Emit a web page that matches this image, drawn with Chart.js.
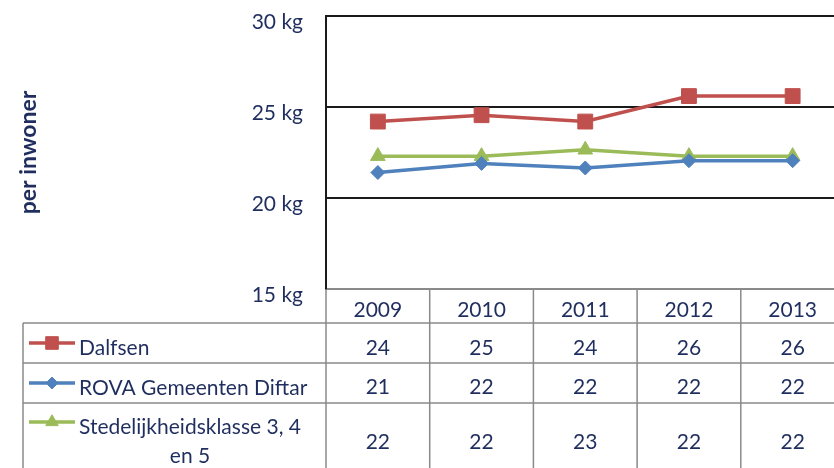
<!DOCTYPE html>
<html>
<head>
<meta charset="utf-8">
<script src="https://cdn.jsdelivr.net/npm/chart.js@4.4.1/dist/chart.umd.min.js"></script>
<style>
  html, body { margin: 0; padding: 0; background: #fff; overflow: hidden; }
  #wrap { width: 834px; height: 468px; overflow: hidden; }
</style>
</head>
<body>
<div id="wrap"><canvas id="chart" width="856" height="468"></canvas></div>
<script>
const years = ["2009", "2010", "2011", "2012", "2013"];
const dalfsen = [24.2, 24.55, 24.2, 25.6, 25.6];
const rova = [21.4, 21.9, 21.65, 22.05, 22.05];
const stedelijk = [22.3, 22.3, 22.65, 22.3, 22.3];
const yTicks = [15, 20, 25, 30];

const navy = '#1F2E5E';
const red = '#C0504D', blue = '#4F81BD', green = '#9BBB59';
const fontFamily = 'Lato, "Open Sans", sans-serif';

// data table under the plot, drawn from the x scale
const dataTable = {
  id: 'dataTable',
  afterDraw(chart) {
    const ctx = chart.ctx;
    const xs = chart.scales.x;
    const area = chart.chartArea;
    const step = xs.getPixelForValue(1) - xs.getPixelForValue(0);
    const left = 23;
    const rowLines = [323, 363, 403];
    const valueY = [348, 387, 442];
    const markerY = [343, 383, 422];
    const bottom = chart.height;

    ctx.save();
    ctx.strokeStyle = '#8a8a8a';
    ctx.lineWidth = 1.5;
    ctx.beginPath();
    rowLines.forEach(y => { ctx.moveTo(left, y); ctx.lineTo(chart.width, y); });
    ctx.moveTo(left, rowLines[0]); ctx.lineTo(left, bottom);
    for (let i = 0; i <= years.length; i++) {
      const x = xs.getPixelForValue(0) - step / 2 + i * step;
      ctx.moveTo(x, area.bottom); ctx.lineTo(x, bottom);
    }
    ctx.stroke();

    ctx.fillStyle = navy;
    ctx.font = '21px ' + fontFamily;
    ctx.textAlign = 'center';
    ctx.textBaseline = 'middle';
    years.forEach((yr, i) => ctx.fillText(yr, xs.getPixelForValue(i), 310));

    chart.data.datasets.forEach((ds, r) => {
      ctx.textAlign = 'center';
      ctx.fillStyle = navy;
      ds.data.forEach((v, i) => {
        ctx.fillText(String(Math.round(v)), xs.getPixelForValue(i), valueY[r]);
      });

      // legend key
      ctx.strokeStyle = ds.borderColor;
      ctx.fillStyle = ds.borderColor;
      ctx.lineWidth = 3.5;
      ctx.beginPath();
      ctx.moveTo(29, markerY[r]); ctx.lineTo(75, markerY[r]);
      ctx.stroke();
      ctx.lineWidth = 1;
      Chart.helpers.drawPoint(ctx, { pointStyle: ds.pointStyle, radius: ds.pointRadius * 0.85, rotation: 0, borderWidth: 1 }, 52, markerY[r]);

      // label, wrapped
      ctx.fillStyle = navy;
      ctx.textAlign = 'left';
      const words = ds.label.split(' ');
      const lines = [];
      let cur = '';
      words.forEach(w => {
        const t = cur ? cur + ' ' + w : w;
        if (ctx.measureText(t).width > 238 && cur) { lines.push(cur); cur = w; } else cur = t;
      });
      lines.push(cur);
      const w0 = ctx.measureText(lines[0]).width;
      ctx.fillText(lines[0], 79, markerY[r] + 5);
      ctx.textAlign = 'center';
      for (let k = 1; k < lines.length; k++) {
        ctx.fillText(lines[k], 79 + w0 / 2, markerY[r] + 5 + k * 29);
      }
    });
    ctx.restore();
  }
};

new Chart(document.getElementById('chart'), {
  type: 'line',
  data: {
    labels: years,
    datasets: [
      { label: 'Dalfsen', data: dalfsen, borderColor: red, backgroundColor: red,
        pointStyle: 'rect', pointRadius: 10.5, pointBorderWidth: 1, borderWidth: 3.5 },
      { label: 'ROVA Gemeenten Diftar', data: rova, borderColor: blue, backgroundColor: blue,
        pointStyle: 'rectRot', pointRadius: 7, pointBorderWidth: 1, borderWidth: 3.5 },
      { label: 'Stedelijkheidsklasse 3, 4 en 5', data: stedelijk, borderColor: green, backgroundColor: green,
        pointStyle: 'triangle', pointRadius: 8.5, pointBorderWidth: 1, borderWidth: 3.5 }
    ]
  },
  options: {
    responsive: false,
    animation: false,
    layout: { padding: { left: 0, right: 0, top: 16, bottom: 179 } },
    plugins: { legend: { display: false }, tooltip: { enabled: false } },
    scales: {
      x: { display: false, offset: true },
      y: {
        min: 15,
        max: 30,
        afterBuildTicks: s => { s.ticks = yTicks.map(v => ({ value: v })); },
        afterFit: s => { s.width = 326; s.paddingTop = 0; s.paddingBottom = 0; },
        ticks: {
          color: navy,
          font: { family: fontFamily, size: 21 },
          padding: 23,
          labelOffset: 6,
          callback: v => v + ' kg'
        },
        grid: {
          drawTicks: false,
          lineWidth: 2,
          color: c => c.tick && c.tick.value === 15 ? '#8a8a8a' : '#1a1a1a'
        },
        border: { color: '#1a1a1a', width: 2 },
        title: {
          display: true,
          text: 'per inwoner',
          color: navy,
          font: { family: fontFamily, size: 23, weight: 'bold' },
          padding: { top: 15, bottom: 0 }
        }
      }
    }
  },
  plugins: [dataTable]
});
</script>
</body>
</html>
